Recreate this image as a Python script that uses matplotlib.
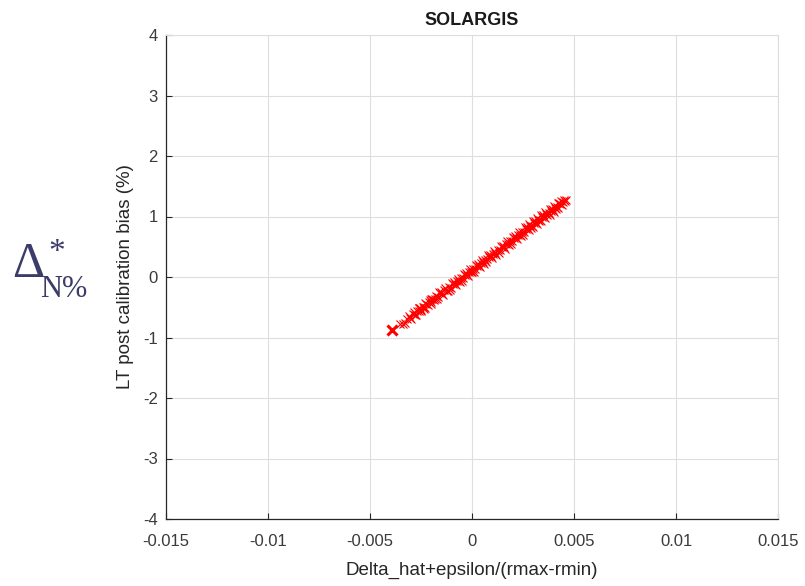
import matplotlib
matplotlib.use("Agg")
import matplotlib.pyplot as plt

# Scatter data
x_vals = [-0.00390, -0.00355, -0.00340, -0.00320, -0.00305, -0.00290, -0.00280, -0.00270,
          -0.00262, -0.00255, -0.00248, -0.00240, -0.00233, -0.00225, -0.00218, -0.00210,
          -0.00202, -0.00195, -0.00185, -0.00175, -0.00166, -0.00155, -0.00145, -0.00135,
          -0.00125, -0.00115, -0.00105, -0.00095, -0.00085, -0.00075, -0.00065, -0.00055,
          -0.00045, -0.00035, -0.00025, -0.00015, -0.00005, 0.00005, 0.00015, 0.00025,
          0.00035, 0.00045, 0.00055, 0.00065, 0.00075, 0.00085, 0.00095, 0.00105,
          0.00115, 0.00125, 0.00135, 0.00145, 0.00155, 0.00165, 0.00175, 0.00185,
          0.00195, 0.00205, 0.00215, 0.00225, 0.00235, 0.00245, 0.00255, 0.00265,
          0.00275, 0.00285, 0.00295, 0.00305, 0.00315, 0.00325, 0.00335, 0.00345,
          0.00355, 0.00365, 0.00375, 0.00385, 0.00395, 0.00405, 0.00415, 0.00430,
          0.00445, 0.00460,
          -0.00260, -0.00235, -0.00205, -0.00180, -0.00150, -0.00120, -0.00090, -0.00060,
          -0.00030, 0.00000, 0.00030, 0.00060, 0.00090, 0.00120, 0.00150, 0.00180,
          0.00210, 0.00240, 0.00270, 0.00290, 0.00310, 0.00330, 0.00350, 0.00370,
          0.00390, 0.00410, 0.00425, 0.00440, 0.00455,
          -0.00330, -0.00300, -0.00275, -0.00250, -0.00228, -0.00200, -0.00170, -0.00140,
          -0.00110, -0.00080, -0.00050, -0.00020, 0.00010, 0.00040, 0.00070, 0.00100,
          0.00130, 0.00160, 0.00190, 0.00220, 0.00250, 0.00280, 0.00300, 0.00320,
          0.00340, 0.00360, 0.00380, 0.00400, 0.00420,
          -0.00310, -0.00285, -0.00260, -0.00230, -0.00200, -0.00160, -0.00130, -0.00100,
          -0.00070, -0.00040, -0.00010, 0.00020, 0.00050, 0.00080, 0.00110, 0.00140,
          0.00170, 0.00200, 0.00230, 0.00260, 0.00280, 0.00300, 0.00320, 0.00340,
          0.00360, 0.00380, 0.00400, 0.00420, 0.00435, 0.00450]
y_vals = [-0.87, -0.78, -0.77, -0.69, -0.68, -0.61, -0.62, -0.56,
          -0.57, -0.52, -0.54, -0.49, -0.50, -0.45, -0.46, -0.41,
          -0.42, -0.37, -0.38, -0.32, -0.33, -0.27, -0.28, -0.22,
          -0.23, -0.17, -0.18, -0.12, -0.12, -0.07, -0.07, -0.02,
          -0.02, 0.03, 0.03, 0.08, 0.08, 0.13, 0.13, 0.18,
          0.19, 0.23, 0.24, 0.28, 0.29, 0.33, 0.34, 0.38,
          0.39, 0.44, 0.44, 0.49, 0.49, 0.54, 0.54, 0.59,
          0.59, 0.64, 0.64, 0.69, 0.69, 0.74, 0.74, 0.79,
          0.79, 0.84, 0.85, 0.89, 0.90, 0.94, 0.95, 0.99,
          1.00, 1.04, 1.05, 1.09, 1.10, 1.14, 1.16, 1.20,
          1.24, 1.27,
          -0.52, -0.53, -0.38, -0.37, -0.24, -0.23, -0.09, -0.09,
          0.07, 0.08, 0.21, 0.22, 0.36, 0.37, 0.52, 0.53,
          0.67, 0.68, 0.82, 0.81, 0.93, 0.92, 1.03, 1.02,
          1.13, 1.12, 1.22, 1.19, 1.25,
          -0.76, -0.69, -0.63, -0.57, -0.51, -0.44, -0.37, -0.29,
          -0.21, -0.14, -0.06, 0.01, 0.09, 0.17, 0.24, 0.32,
          0.40, 0.47, 0.55, 0.62, 0.70, 0.77, 0.82, 0.87,
          0.93, 0.98, 1.03, 1.08, 1.14,
          -0.64, -0.58, -0.51, -0.43, -0.36, -0.25, -0.18, -0.10,
          -0.03, 0.05, 0.13, 0.20, 0.28, 0.36, 0.43, 0.51,
          0.59, 0.66, 0.74, 0.82, 0.87, 0.92, 0.97, 1.02,
          1.07, 1.12, 1.17, 1.22, 1.25, 1.28]

x_ticks = [-0.015, -0.01, -0.005, 0, 0.005, 0.01, 0.015]
x_ticklabels = ["-0.015", "-0.01", "-0.005", "0", "0.005", "0.01", "0.015"]
y_ticks = [-4, -3, -2, -1, 0, 1, 2, 3, 4]

plt.rcParams['font.family'] = ['Liberation Sans', 'DejaVu Sans']
plt.rcParams['axes.unicode_minus'] = False

fig = plt.figure(figsize=(8.05, 5.86), dpi=100)
ax = fig.add_axes([166/805, 67/586, 612/805, 484/586])

ax.plot(x_vals, y_vals, linestyle='none', marker='x', color='#ff0000',
        markersize=5.5, markeredgewidth=0.8)
ax.plot(x_vals[0], y_vals[0], linestyle='none', marker='x', color='#ff0000',
        markersize=7, markeredgewidth=2.2)

ax.set_xlim(-0.015, 0.015)
ax.set_ylim(-4, 4)
ax.set_xticks(x_ticks)
ax.set_xticklabels(x_ticklabels)
ax.set_yticks(y_ticks)
ax.grid(True, color='#dedede', linewidth=0.8)
ax.set_axisbelow(True)

for s in ['top', 'right']:
    ax.spines[s].set_color('#dcdcdc')
    ax.spines[s].set_linewidth(0.8)
for s in ['bottom', 'left']:
    ax.spines[s].set_color('#262626')
    ax.spines[s].set_linewidth(0.9)

ax.tick_params(direction='in', length=4, width=0.8, colors='#262626',
               labelsize=12, labelcolor='#3a3a3a')
ax.tick_params(axis='x', pad=11)
ax.tick_params(axis='y', pad=6)

ax.set_title('SOLARGIS', fontsize=13, fontweight='bold', color='#1a1a1a', pad=7)
ax.set_xlabel('Delta_hat+epsilon/(rmax-rmin)', fontsize=13.5, color='#262626', labelpad=9)
ax.set_ylabel('LT post calibration bias (%)', fontsize=13.5, color='#262626', labelpad=6)

serif = ['Liberation Serif', 'DejaVu Serif']
lab_color = '#3c3c6a'
fig.text(12/805, 1 - 277/586, 'Δ', fontsize=36, family=serif, color=lab_color,
         ha='left', va='baseline')
fig.text(48/805, 1 - 261/586, '*', fontsize=24, family=serif, color=lab_color,
         ha='left', va='baseline')
fig.text(40/805, 1 - 297/586, 'N%', fontsize=22, family=serif, color=lab_color,
         ha='left', va='baseline')

fig.savefig('out.png', dpi=100)
